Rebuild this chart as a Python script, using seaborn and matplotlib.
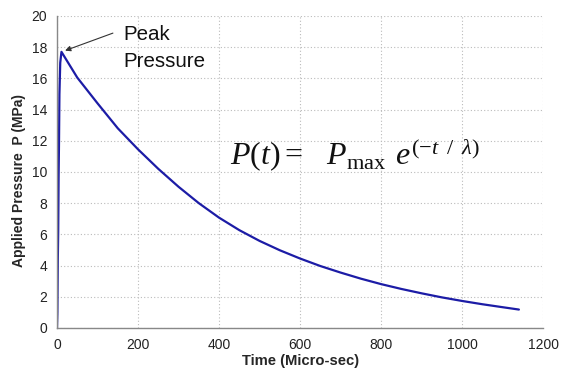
import matplotlib
matplotlib.use("Agg")
import matplotlib.pyplot as plt
import seaborn as sns
import pandas as pd

sns.set_style("white")
plt.rcParams['font.family'] = ['Liberation Sans', 'DejaVu Sans']
plt.rcParams['mathtext.fontset'] = 'custom'
plt.rcParams['mathtext.rm'] = 'Liberation Serif'
plt.rcParams['mathtext.it'] = 'Liberation Serif:italic'

# data
time_us = [0, 1, 2, 3, 4, 5, 6, 8, 11, 50, 100, 150, 200, 250, 300, 350, 400,
           450, 500, 550, 600, 650, 700, 750, 800, 850, 900, 950, 1000,
           1050, 1100, 1140]
pressure_mpa = [0.0, 1.0, 4.4, 6.2, 9.8, 12.0, 15.0, 17.0, 17.7, 16.05, 14.4,
                12.8, 11.45, 10.2, 9.05, 8.0, 7.07, 6.27, 5.58, 4.98, 4.45,
                3.97, 3.55, 3.16, 2.81, 2.5, 2.22, 1.96, 1.73, 1.52, 1.33,
                1.18]
x_ticks = [0, 200, 400, 600, 800, 1000, 1200]
y_ticks = [0, 2, 4, 6, 8, 10, 12, 14, 16, 18, 20]

df = pd.DataFrame({"t": time_us, "P": pressure_mpa})

fig = plt.figure(figsize=(5.7, 3.71), dpi=100)
ax = fig.add_axes([0.1, 0.116, 0.853, 0.841])
sns.lineplot(data=df, x="t", y="P", ax=ax, color="#1c1ca6", linewidth=1.6,
             sort=False)

ax.set_xlim(0, 1200)
ax.set_ylim(0, 20)
ax.set_xticks(x_ticks)
ax.set_yticks(y_ticks)
ax.tick_params(axis="both", direction="out", length=4, width=0.8,
               color="#888888", labelsize=10, labelcolor="#222222", pad=3)
ax.grid(True, linestyle=(0, (1, 2)), color="#bbbbbb", linewidth=0.8)
for s in ["top", "right"]:
    ax.spines[s].set_visible(False)
for s in ["left", "bottom"]:
    ax.spines[s].set_color("#888888")
    ax.spines[s].set_linewidth(1.0)

ax.set_xlabel("Time (Micro-sec)", fontsize=10.6, fontweight="bold")
ax.set_ylabel("Applied Pressure  P (MPa)", fontsize=10, fontweight="bold")
ax.xaxis.set_label_coords(0.5, -0.085)
ax.yaxis.set_label_coords(-0.064, 0.474)

# annotation
ax.annotate("", xy=(20, 17.78), xytext=(138, 18.9),
            arrowprops=dict(arrowstyle="-|>", color="#333333", lw=0.8,
                            mutation_scale=8, shrinkA=0, shrinkB=0))
ax.text(165, 18.46, "Peak", fontsize=14.8, ha="left", va="baseline",
        color="#111111")
ax.text(165, 16.75, "Pressure", fontsize=14.8, ha="left", va="baseline",
        color="#111111")

ax.text(427, 10.45,
        r"$P(t) =\;\;\;P_{\mathrm{max}}\;\,e^{(-t\;\;/\;\;\lambda)}$",
        fontsize=23, ha="left", va="baseline", color="#111111")

fig.savefig("out.png", dpi=100)
